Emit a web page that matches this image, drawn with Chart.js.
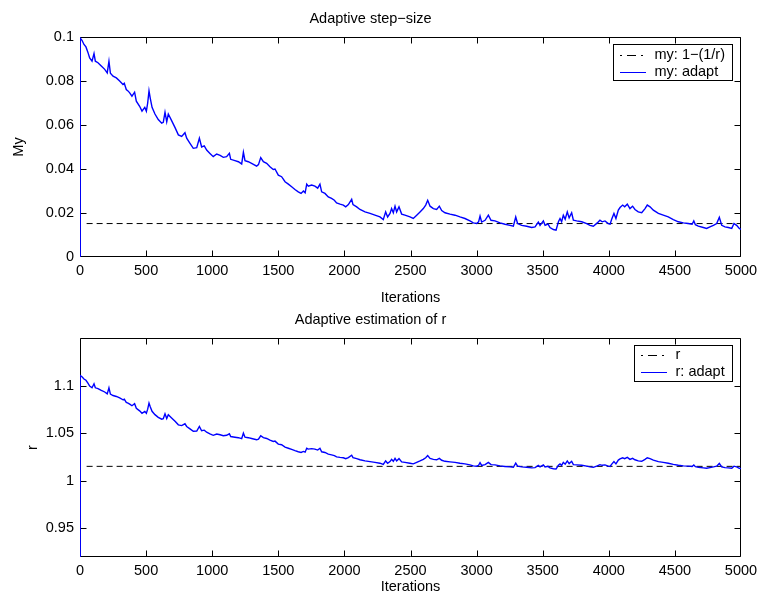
<!DOCTYPE html>
<html>
<head>
<meta charset="utf-8">
<script src="https://cdn.jsdelivr.net/npm/chart.js@4.4.1/dist/chart.umd.min.js"></script>
<style>
  html, body { margin: 0; padding: 0; background: #fff; }
  #wrap { position: relative; width: 759px; height: 596px; overflow: hidden; }
  #stepChart { position: absolute; left: 0; top: 0; }
  #rChart { position: absolute; left: 0; top: 300px; }
</style>
</head>
<body>
<div id="wrap">
  <canvas id="stepChart" width="759" height="310"></canvas>
  <canvas id="rChart" width="759" height="296"></canvas>
</div>
<script>
// Iteration index of each sample
const iterations = [
  0, 2, 15, 30, 45, 60, 73, 91, 106, 116,
  136, 161, 187, 206, 219, 230, 250, 275, 300, 325,
  335, 350, 363, 376, 393, 413, 426, 451, 469, 490,
  502, 512, 522, 532, 545, 567, 592, 618, 630, 643,
  656, 668, 693, 719, 744, 769, 794, 807, 832, 857,
  883, 903, 920, 940, 958, 983, 1008, 1034, 1060, 1084,
  1109, 1130, 1140, 1172, 1198, 1223, 1236, 1248, 1273, 1298,
  1336, 1350, 1367, 1387, 1412, 1437, 1462, 1475, 1500, 1525,
  1551, 1576, 1601, 1626, 1651, 1672, 1690, 1703, 1715, 1727,
  1752, 1777, 1798, 1815, 1828, 1853, 1878, 1903, 1924, 1941,
  1967, 1992, 2010, 2030, 2055, 2065, 2093, 2118, 2156, 2194,
  2231, 2269, 2294, 2312, 2327, 2345, 2357, 2370, 2383, 2395,
  2413, 2433, 2458, 2496, 2521, 2547, 2572, 2597, 2615, 2630,
  2648, 2673, 2698, 2718, 2736, 2761, 2799, 2837, 2874, 2912,
  2950, 2975, 3000, 3015, 3026, 3038, 3064, 3089, 3109, 3139,
  3177, 3215, 3253, 3278, 3296, 3310, 3341, 3379, 3417, 3442,
  3467, 3480, 3505, 3518, 3540, 3555, 3581, 3601, 3619, 3631,
  3643, 3656, 3670, 3686, 3700, 3719, 3732, 3757, 3795, 3833,
  3858, 3883, 3913, 3933, 3950, 3971, 3996, 4010, 4021, 4039,
  4054, 4072, 4085, 4105, 4120, 4140, 4160, 4180, 4198, 4223,
  4249, 4274, 4291, 4312, 4337, 4375, 4412, 4450, 4488, 4526,
  4564, 4601, 4630, 4643, 4655, 4677, 4715, 4740, 4765, 4791,
  4816, 4836, 4854, 4879, 4904, 4930, 4947, 4967, 4987, 5000
];

// Adapted step size "my"
const myAdapt = [
  0, 0.0995, 0.0985, 0.0966, 0.0955, 0.0930, 0.0905, 0.0890, 0.0925, 0.0890,
  0.0883, 0.0868, 0.0853, 0.0837, 0.0890, 0.0835, 0.0822, 0.0814, 0.0800, 0.0784,
  0.0790, 0.0761, 0.0755, 0.0746, 0.0731, 0.0749, 0.0708, 0.0685, 0.0663, 0.0680,
  0.0663, 0.0700, 0.0755, 0.0720, 0.0680, 0.0650, 0.0625, 0.0608, 0.0612, 0.0658,
  0.0615, 0.0650, 0.0620, 0.0588, 0.0555, 0.0548, 0.0565, 0.0540, 0.0517, 0.0494,
  0.0497, 0.0540, 0.0500, 0.0505, 0.0486, 0.0471, 0.0456, 0.0468, 0.0462, 0.0453,
  0.0456, 0.0471, 0.0444, 0.0438, 0.0433, 0.0423, 0.0476, 0.0438, 0.0433, 0.0426,
  0.0413, 0.0420, 0.0452, 0.0433, 0.0426, 0.0410, 0.0398, 0.0400, 0.0372, 0.0365,
  0.0342, 0.0331, 0.0319, 0.0307, 0.0296, 0.0289, 0.0300, 0.0292, 0.0331, 0.0322,
  0.0327, 0.0322, 0.0313, 0.0331, 0.0296, 0.0289, 0.0273, 0.0266, 0.0258, 0.0246,
  0.0240, 0.0236, 0.0228, 0.0238, 0.0262, 0.0238, 0.0228, 0.0216, 0.0205, 0.0198,
  0.0190, 0.0182, 0.0170, 0.0205, 0.0182, 0.0198, 0.0220, 0.0201, 0.0231, 0.0205,
  0.0228, 0.0195, 0.0190, 0.0182, 0.0175, 0.0190, 0.0205, 0.0220, 0.0236, 0.0258,
  0.0231, 0.0220, 0.0216, 0.0231, 0.0211, 0.0201, 0.0195, 0.0190, 0.0182, 0.0175,
  0.0164, 0.0155, 0.0152, 0.0160, 0.0186, 0.0159, 0.0167, 0.0190, 0.0167, 0.0164,
  0.0155, 0.0149, 0.0144, 0.0140, 0.0182, 0.0152, 0.0144, 0.0140, 0.0134, 0.0137,
  0.0159, 0.0144, 0.0164, 0.0144, 0.0150, 0.0134, 0.0125, 0.0122, 0.0160, 0.0175,
  0.0160, 0.0190, 0.0172, 0.0205, 0.0178, 0.0201, 0.0167, 0.0164, 0.0160, 0.0152,
  0.0144, 0.0140, 0.0155, 0.0167, 0.0160, 0.0164, 0.0152, 0.0149, 0.0170, 0.0198,
  0.0175, 0.0213, 0.0225, 0.0236, 0.0228, 0.0240, 0.0220, 0.0231, 0.0216, 0.0205,
  0.0201, 0.0220, 0.0236, 0.0228, 0.0213, 0.0198, 0.0190, 0.0182, 0.0170, 0.0160,
  0.0155, 0.0152, 0.0149, 0.0164, 0.0147, 0.0140, 0.0134, 0.0130, 0.0137, 0.0144,
  0.0152, 0.0180, 0.0144, 0.0137, 0.0134, 0.0130, 0.0152, 0.0144, 0.0130, 0.0126
];

// Adapted estimate of r
const rAdapt = [
  0, 1.1105, 1.1093, 1.1069, 1.1056, 1.1025, 1.0995, 1.0977, 1.1019, 1.0977,
  1.0969, 1.0950, 1.0933, 1.0913, 1.0977, 1.0911, 1.0896, 1.0886, 1.0870, 1.0851,
  1.0858, 1.0824, 1.0817, 1.0806, 1.0789, 1.0810, 1.0762, 1.0735, 1.0710, 1.0730,
  1.0710, 1.0753, 1.0817, 1.0776, 1.0730, 1.0695, 1.0667, 1.0647, 1.0652, 1.0704,
  1.0655, 1.0695, 1.0661, 1.0625, 1.0588, 1.0580, 1.0599, 1.0571, 1.0545, 1.0520,
  1.0523, 1.0571, 1.0526, 1.0532, 1.0511, 1.0494, 1.0478, 1.0491, 1.0484, 1.0474,
  1.0478, 1.0494, 1.0465, 1.0458, 1.0453, 1.0442, 1.0500, 1.0458, 1.0453, 1.0445,
  1.0431, 1.0438, 1.0473, 1.0453, 1.0445, 1.0428, 1.0414, 1.0417, 1.0386, 1.0379,
  1.0354, 1.0342, 1.0330, 1.0317, 1.0305, 1.0298, 1.0309, 1.0301, 1.0342, 1.0333,
  1.0338, 1.0333, 1.0323, 1.0342, 1.0305, 1.0298, 1.0281, 1.0273, 1.0265, 1.0252,
  1.0246, 1.0242, 1.0233, 1.0244, 1.0269, 1.0244, 1.0233, 1.0221, 1.0209, 1.0202,
  1.0194, 1.0185, 1.0173, 1.0209, 1.0185, 1.0202, 1.0225, 1.0205, 1.0236, 1.0209,
  1.0233, 1.0199, 1.0194, 1.0185, 1.0178, 1.0194, 1.0209, 1.0225, 1.0242, 1.0265,
  1.0236, 1.0225, 1.0221, 1.0236, 1.0216, 1.0205, 1.0199, 1.0194, 1.0185, 1.0178,
  1.0167, 1.0157, 1.0154, 1.0163, 1.0190, 1.0162, 1.0170, 1.0194, 1.0170, 1.0167,
  1.0157, 1.0151, 1.0146, 1.0142, 1.0185, 1.0154, 1.0146, 1.0142, 1.0136, 1.0139,
  1.0162, 1.0146, 1.0167, 1.0146, 1.0152, 1.0136, 1.0127, 1.0124, 1.0163, 1.0178,
  1.0163, 1.0194, 1.0175, 1.0209, 1.0181, 1.0205, 1.0170, 1.0167, 1.0163, 1.0154,
  1.0146, 1.0142, 1.0157, 1.0170, 1.0163, 1.0167, 1.0154, 1.0151, 1.0173, 1.0202,
  1.0178, 1.0218, 1.0230, 1.0242, 1.0233, 1.0246, 1.0225, 1.0236, 1.0221, 1.0209,
  1.0205, 1.0225, 1.0242, 1.0233, 1.0218, 1.0202, 1.0194, 1.0185, 1.0173, 1.0163,
  1.0157, 1.0154, 1.0151, 1.0167, 1.0149, 1.0142, 1.0136, 1.0132, 1.0139, 1.0146,
  1.0154, 1.0183, 1.0146, 1.0139, 1.0136, 1.0132, 1.0154, 1.0146, 1.0132, 1.0128
];

// Reference (true) values, drawn as a dashed horizontal line
const refIterations = [50, 5000];
const myRef = [0.0152, 0.0152];
const rRef = [1.0152, 1.0152];

// Axis ticks and their labels
const iterTicks = [0, 500, 1000, 1500, 2000, 2500, 3000, 3500, 4000, 4500, 5000];
const iterTickLabels = ['0', '500', '1000', '1500', '2000', '2500', '3000', '3500', '4000', '4500', '5000'];
const myTicks = [0, 0.02, 0.04, 0.06, 0.08, 0.1];
const myTickLabels = ['0', '0.02', '0.04', '0.06', '0.08', '0.1'];
const rTicks = [0.95, 1, 1.05, 1.1];
const rTickLabels = ['0.95', '1', '1.05', '1.1'];

const FAMILY = '"Liberation Sans", Arial, Helvetica, sans-serif';
const SIZE = 14.5;
Chart.defaults.font.family = FAMILY;
Chart.defaults.font.size = SIZE;
Chart.defaults.color = '#000';

function labelFor(values, labels, v) {
  const i = values.findIndex(t => Math.abs(t - v) < 1e-9);
  return i >= 0 ? labels[i] : '';
}

function points(xs, ys) {
  return xs.map((x, i) => ({ x: x, y: ys[i] }));
}

// Box around the plot area with short inward ticks on all four sides
const axesFrame = {
  id: 'axesFrame',
  beforeDatasetsDraw(chart) {
    const { ctx, chartArea: a, scales } = chart;
    const L = a.left + 0.5, R = a.right - 0.5, T = a.top + 0.5, B = a.bottom - 0.5;
    const len = 6;
    const clampX = p => Math.min(Math.max(p, L), R);
    const clampY = p => Math.min(Math.max(p, T), B);
    ctx.save();
    ctx.strokeStyle = '#000';
    ctx.lineWidth = 1;
    ctx.beginPath();
    ctx.rect(L, T, R - L, B - T);
    scales.x.ticks.forEach(t => {
      const px = clampX(Math.round(scales.x.getPixelForValue(t.value)) + 0.5);
      ctx.moveTo(px, B); ctx.lineTo(px, B - len);
      ctx.moveTo(px, T); ctx.lineTo(px, T + len);
    });
    scales.y.ticks.forEach(t => {
      const py = clampY(Math.round(scales.y.getPixelForValue(t.value)) + 0.5);
      ctx.moveTo(L, py); ctx.lineTo(L + len, py);
      ctx.moveTo(R, py); ctx.lineTo(R - len, py);
    });
    ctx.stroke();
    ctx.restore();
  }
};

// Framed legend in the upper right corner of the plot area
const boxLegend = {
  id: 'boxLegend',
  afterDatasetsDraw(chart, args, o) {
    const { ctx, chartArea: a } = chart;
    const sets = chart.data.datasets;
    ctx.save();
    ctx.font = SIZE + 'px ' + FAMILY;
    const textW = Math.max(...sets.map(d => ctx.measureText(d.label).width));
    const padL = 7, sample = 26, gap = 8.5, padR = 8;
    const w = Math.round(padL + sample + gap + textW + padR);
    const right = Math.round(a.right - o.offsetRight);
    const left = right - w;
    const top = Math.round(a.top + o.offsetTop);
    const h = o.height;
    ctx.fillStyle = '#fff';
    ctx.fillRect(left, top, w, h);
    ctx.strokeStyle = '#000';
    ctx.lineWidth = 1;
    ctx.strokeRect(left + 0.5, top + 0.5, w - 1, h - 1);
    sets.forEach((d, i) => {
      const y = top + o.rowTop + i * o.rowStep;
      const ly = Math.round(y) + 0.5;
      ctx.beginPath();
      ctx.setLineDash(d.legendDash || []);
      ctx.strokeStyle = d.borderColor;
      ctx.lineWidth = 1;
      ctx.moveTo(left + padL, ly);
      ctx.lineTo(left + padL + sample, ly);
      ctx.stroke();
      ctx.setLineDash([]);
      ctx.fillStyle = '#000';
      ctx.textAlign = 'left';
      ctx.textBaseline = 'middle';
      ctx.fillText(d.label, left + padL + sample + gap, y);
    });
    ctx.restore();
  }
};

function buildChart(id, opt) {
  const canvasH = document.getElementById(id).height;
  return new Chart(document.getElementById(id), {
    type: 'line',
    data: {
      datasets: [
        {
          label: opt.refLabel,
          data: points(refIterations, opt.ref),
          borderColor: '#000000',
          borderWidth: 1,
          borderDash: [6, 4],
          legendDash: [2, 5, 9, 5],
          pointRadius: 0,
          tension: 0,
          order: 1
        },
        {
          label: opt.adaptLabel,
          data: points(iterations, opt.adapt),
          borderColor: '#0000ff',
          borderWidth: 1.4,
          pointRadius: 0,
          tension: 0,
          order: 0
        }
      ]
    },
    options: {
      responsive: false,
      animation: false,
      devicePixelRatio: 1,
      events: [],
      layout: { padding: { left: 0, right: 18, top: 0, bottom: 0 } },
      plugins: {
        legend: { display: false },
        tooltip: { enabled: false },
        title: {
          display: true,
          text: opt.title,
          color: '#000',
          font: { size: SIZE, weight: 'normal' },
          padding: opt.titlePadding
        },
        boxLegend: opt.legend
      },
      scales: {
        x: {
          type: 'linear',
          min: 0,
          max: 5000,
          grid: { display: false, drawTicks: false },
          border: { display: false },
          afterBuildTicks: s => { s.ticks = iterTicks.map(v => ({ value: v })); },
          afterFit: s => { s.height = canvasH - 257; s.paddingLeft = 0; s.paddingRight = 0; },
          ticks: {
            padding: 5,
            maxRotation: 0,
            autoSkip: false,
            color: '#000',
            callback: v => labelFor(iterTicks, iterTickLabels, v)
          },
          title: {
            display: true,
            text: 'Iterations',
            color: '#000',
            padding: { top: 0, bottom: opt.xTitlePad }
          }
        },
        y: {
          type: 'linear',
          min: opt.yMin,
          max: opt.yMax,
          grid: { display: false, drawTicks: false },
          border: { display: false },
          afterBuildTicks: s => { s.ticks = opt.yTicks.map(v => ({ value: v })); },
          afterFit: s => { s.width = 80; s.paddingTop = 0; s.paddingBottom = 0; },
          ticks: {
            padding: 6,
            autoSkip: false,
            color: '#000',
            callback: v => labelFor(opt.yTicks, opt.yTickLabels, v)
          },
          title: {
            display: true,
            text: opt.yTitle,
            color: '#000',
            padding: { top: opt.yTitlePad, bottom: 0 }
          }
        }
      }
    },
    plugins: [axesFrame, boxLegend]
  });
}

buildChart('stepChart', {
  title: 'Adaptive step\u2212size',
  titlePadding: { top: 10, bottom: 9.6 },
  refLabel: 'my: 1\u2212(1/r)',
  adaptLabel: 'my: adapt',
  ref: myRef,
  adapt: myAdapt,
  yMin: 0,
  yMax: 0.1,
  yTicks: myTicks,
  yTickLabels: myTickLabels,
  yTitle: 'My',
  yTitlePad: 10,
  xTitlePad: 2.9,
  legend: { offsetRight: 8, offsetTop: 7, rowTop: 11, rowStep: 16.7, height: 37 }
});

buildChart('rChart', {
  title: 'Adaptive estimation of r',
  titlePadding: { top: 11.7, bottom: 8.9 },
  refLabel: 'r',
  adaptLabel: 'r: adapt',
  ref: rRef,
  adapt: rAdapt,
  yMin: 0.92,
  yMax: 1.15,
  yTicks: rTicks,
  yTickLabels: rTickLabels,
  yTitle: 'r',
  yTitlePad: 24,
  xTitlePad: 0,
  legend: { offsetRight: 8.5, offsetTop: 7, rowTop: 10, rowStep: 16.7, height: 37 }
});
</script>
</body>
</html>
